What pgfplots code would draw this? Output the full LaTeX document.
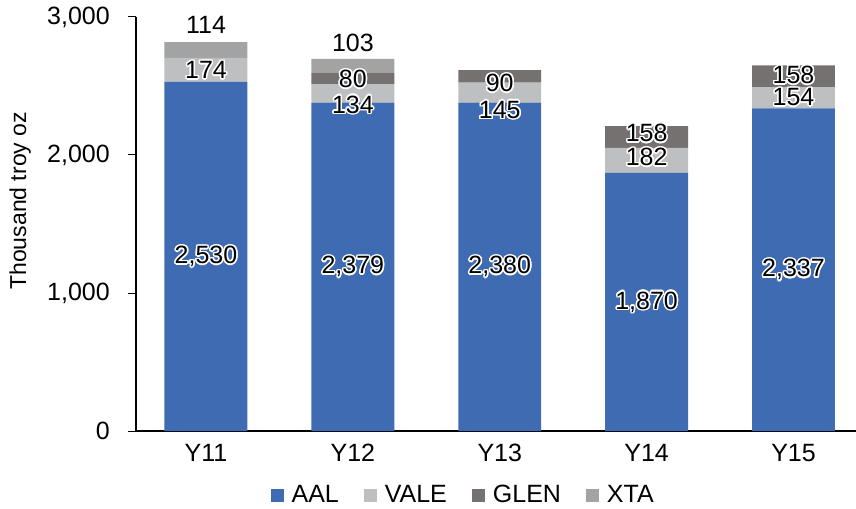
\documentclass[border=0pt]{standalone}
\usepackage{fontspec}
\setmainfont{Liberation Sans}
\usepackage{pgfplots}
\pgfplotsset{compat=1.18}
\definecolor{aal}{HTML}{3F6BB3}
\definecolor{vale}{HTML}{BEBFC1}
\definecolor{glen}{HTML}{757171}
\definecolor{xta}{HTML}{A3A3A3}
\newcommand\cf{\fontsize{25bp}{30bp}\selectfont}
\newcommand\hc[3]{\rlap{\hspace*{#1}\raisebox{#2}{\color{white}#3}}}
\newcommand\halo[1]{\hc{1.5pt}{0pt}{#1}\hc{-1.5pt}{0pt}{#1}\hc{0pt}{1.5pt}{#1}\hc{0pt}{-1.5pt}{#1}%
  \hc{1.06pt}{1.06pt}{#1}\hc{-1.06pt}{1.06pt}{#1}\hc{1.06pt}{-1.06pt}{#1}\hc{-1.06pt}{-1.06pt}{#1}%
  \hc{1.4pt}{0.6pt}{#1}\hc{-1.4pt}{0.6pt}{#1}\hc{1.4pt}{-0.6pt}{#1}\hc{-1.4pt}{-0.6pt}{#1}%
  \hc{0.6pt}{1.4pt}{#1}\hc{-0.6pt}{1.4pt}{#1}\hc{0.6pt}{-1.4pt}{#1}\hc{-0.6pt}{-1.4pt}{#1}#1}
\begin{document}
\begin{tikzpicture}
\begin{axis}[
  at={(0,0)}, anchor=south west,
  scale only axis, width=720bp, height=414bp,
  ymin=0, ymax=3000, xmin=-0.4765, xmax=4.4255,
  ybar stacked, bar width=0.565,
  axis x line*=bottom, axis y line*=left,
  axis line style={line width=1.5bp, black},
  xtick={0,1,2,3,4}, xticklabels={Y11,Y12,Y13,Y14,Y15},
  xtick style={draw=none},
  xticklabel style={inner sep=0pt, yshift=-13bp},
  ytick={0,1000,2000,3000}, ytick align=outside,
  major tick length=8bp, ytick style={line width=1bp, black},
  yticklabel style={/pgf/number format/1000 sep={,}, inner sep=0pt, xshift=-18bp},
  /pgf/number format/assume math mode=true,
  tick label style={font=\cf},
  ylabel={Thousand troy oz},
  ylabel style={font=\fontsize{23bp}{28bp}\selectfont, at={(axis description cs:-0.161,0.556)}, anchor=center},
  legend columns=4,
  legend style={draw=none, font=\cf, at={(0.453,-0.1546)}, anchor=center,
    column sep=0pt, nodes={inner sep=0pt},
    /tikz/every odd column/.append style={column sep=8bp},
    /tikz/every even column/.append style={column sep=25bp}},
  legend image code/.code={\fill[#1] (0bp,-6.5bp) rectangle (13bp,6.5bp);},
]
\addplot[fill=aal, draw=none] coordinates {(0,2530) (1,2379) (2,2380) (3,1870) (4,2337)};
\addplot[fill=vale, draw=none] coordinates {(0,174) (1,134) (2,145) (3,182) (4,154)};
\addplot[fill=glen, draw=none] coordinates {(0,0) (1,80) (2,90) (3,158) (4,158)};
\addplot[fill=xta, draw=none] coordinates {(0,114) (1,103) (2,0) (3,0) (4,0)};
\legend{AAL,VALE,GLEN,XTA}
\coordinate (a0) at (axis cs:0,1265);
\coordinate (v0) at (axis cs:0,2616);
\coordinate (x0) at (axis cs:0,2942);
\coordinate (a1) at (axis cs:1,1190);
\coordinate (v1) at (axis cs:1,2365);
\coordinate (g1) at (axis cs:1,2551);
\coordinate (x1) at (axis cs:1,2812);
\coordinate (a2) at (axis cs:2,1190);
\coordinate (v2) at (axis cs:2,2326);
\coordinate (g2) at (axis cs:2,2522);
\coordinate (a3) at (axis cs:3,935);
\coordinate (v3) at (axis cs:3,1986);
\coordinate (g3) at (axis cs:3,2159);
\coordinate (a4) at (axis cs:4,1168);
\coordinate (v4) at (axis cs:4,2420);
\coordinate (g4) at (axis cs:4,2580);
\end{axis}
\begin{scope}[every node/.append style={font=\cf, inner sep=0pt}]
\node at (a0) {\halo{2,530}};
\node at (v0) {\halo{174}};
\node at (x0) {114};
\node at (a1) {\halo{2,379}};
\node at (v1) {\halo{134}};
\node at (g1) {\halo{80}};
\node at (x1) {103};
\node at (a2) {\halo{2,380}};
\node at (v2) {\halo{145}};
\node at (g2) {\halo{90}};
\node at (a3) {\halo{1,870}};
\node at (v3) {\halo{182}};
\node at (g3) {\halo{158}};
\node at (a4) {\halo{2,337}};
\node at (v4) {\halo{154}};
\node at (g4) {\halo{158}};
\end{scope}
\pgfresetboundingbox
\path[use as bounding box] (-136bp,-78bp) rectangle (720bp,431bp);
\end{tikzpicture}
\end{document}
